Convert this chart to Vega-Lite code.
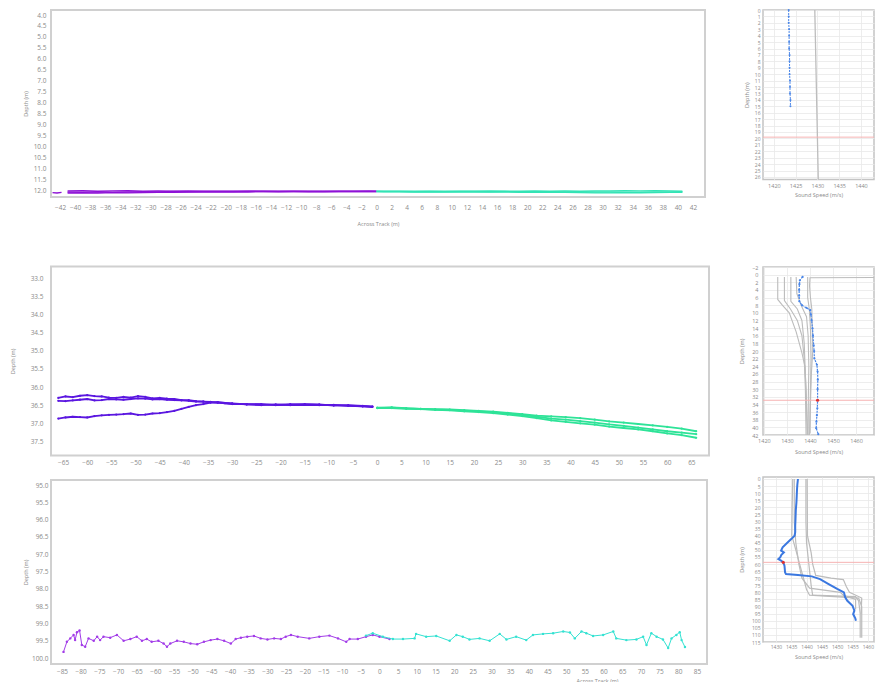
{
"$schema":"https://vega.github.io/schema/vega-lite/v6.json",
"background":"white",
"padding":{"left":9,"top":3,"right":0,"bottom":0},
"spacing":28,
"datasets":{
"l1p":[
{"ping":4,"x":-43,"d":12.12},{"ping":4,"x":-42.4,"d":12.14},{"ping":4,"x":-41.8,"d":12.11},
{"ping":1,"x":-41,"d":12.04},{"ping":1,"x":-39,"d":12.03},{"ping":1,"x":-37,"d":12.05},{"ping":1,"x":-35,"d":12.04},{"ping":1,"x":-33,"d":12.03},{"ping":1,"x":-31,"d":12.05},{"ping":1,"x":-29,"d":12.04},{"ping":1,"x":-27,"d":12.05},{"ping":1,"x":-25,"d":12.04},{"ping":1,"x":-23,"d":12.05},{"ping":1,"x":-21,"d":12.05},{"ping":1,"x":-19,"d":12.06},{"ping":1,"x":-17,"d":12.04},{"ping":1,"x":-15,"d":12.05},{"ping":1,"x":-13,"d":12.06},{"ping":1,"x":-11,"d":12.05},{"ping":1,"x":-9,"d":12.05},{"ping":1,"x":-7,"d":12.06},{"ping":1,"x":-5,"d":12.05},{"ping":1,"x":-3,"d":12.06},{"ping":1,"x":-1,"d":12.06},{"ping":1,"x":0,"d":12.06},
{"ping":2,"x":-41,"d":12.09},{"ping":2,"x":-39,"d":12.10},{"ping":2,"x":-37,"d":12.08},{"ping":2,"x":-35,"d":12.10},{"ping":2,"x":-33,"d":12.09},{"ping":2,"x":-31,"d":12.08},{"ping":2,"x":-29,"d":12.09},{"ping":2,"x":-27,"d":12.07},{"ping":2,"x":-25,"d":12.08},{"ping":2,"x":-23,"d":12.07},{"ping":2,"x":-21,"d":12.07},{"ping":2,"x":-19,"d":12.07},{"ping":2,"x":-17,"d":12.08},{"ping":2,"x":-15,"d":12.07},{"ping":2,"x":-13,"d":12.07},{"ping":2,"x":-11,"d":12.07},{"ping":2,"x":-9,"d":12.08},{"ping":2,"x":-7,"d":12.07},{"ping":2,"x":-5,"d":12.07},{"ping":2,"x":-3,"d":12.07},{"ping":2,"x":-1,"d":12.06},{"ping":2,"x":0,"d":12.07},
{"ping":3,"x":-41,"d":12.14},{"ping":3,"x":-39,"d":12.13},{"ping":3,"x":-37,"d":12.14},{"ping":3,"x":-35,"d":12.12},{"ping":3,"x":-33,"d":12.13},{"ping":3,"x":-31,"d":12.12},{"ping":3,"x":-29,"d":12.11},{"ping":3,"x":-27,"d":12.10},{"ping":3,"x":-25,"d":12.09},{"ping":3,"x":-23,"d":12.09},{"ping":3,"x":-21,"d":12.08},{"ping":3,"x":-19,"d":12.09},{"ping":3,"x":-17,"d":12.08},{"ping":3,"x":-15,"d":12.07},{"ping":3,"x":-13,"d":12.08},{"ping":3,"x":-11,"d":12.07},{"ping":3,"x":-9,"d":12.07},{"ping":3,"x":-7,"d":12.08},{"ping":3,"x":-5,"d":12.07},{"ping":3,"x":-3,"d":12.07},{"ping":3,"x":-1,"d":12.07},{"ping":3,"x":0,"d":12.07}
],
"l1s":[
{"ping":1,"x":0,"d":12.06},{"ping":1,"x":1,"d":12.06},{"ping":1,"x":3,"d":12.05},{"ping":1,"x":5,"d":12.06},{"ping":1,"x":7,"d":12.05},{"ping":1,"x":9,"d":12.06},{"ping":1,"x":11,"d":12.05},{"ping":1,"x":13,"d":12.05},{"ping":1,"x":15,"d":12.04},{"ping":1,"x":17,"d":12.05},{"ping":1,"x":19,"d":12.05},{"ping":1,"x":21,"d":12.04},{"ping":1,"x":23,"d":12.05},{"ping":1,"x":25,"d":12.04},{"ping":1,"x":27,"d":12.05},{"ping":1,"x":29,"d":12.04},{"ping":1,"x":31,"d":12.04},{"ping":1,"x":33,"d":12.03},{"ping":1,"x":35,"d":12.04},{"ping":1,"x":37,"d":12.03},{"ping":1,"x":39,"d":12.04},{"ping":1,"x":40.6,"d":12.05},
{"ping":2,"x":0,"d":12.07},{"ping":2,"x":1,"d":12.07},{"ping":2,"x":3,"d":12.07},{"ping":2,"x":5,"d":12.08},{"ping":2,"x":7,"d":12.07},{"ping":2,"x":9,"d":12.08},{"ping":2,"x":11,"d":12.07},{"ping":2,"x":13,"d":12.07},{"ping":2,"x":15,"d":12.08},{"ping":2,"x":17,"d":12.07},{"ping":2,"x":19,"d":12.08},{"ping":2,"x":21,"d":12.08},{"ping":2,"x":23,"d":12.08},{"ping":2,"x":25,"d":12.09},{"ping":2,"x":27,"d":12.08},{"ping":2,"x":29,"d":12.09},{"ping":2,"x":31,"d":12.09},{"ping":2,"x":33,"d":12.10},{"ping":2,"x":35,"d":12.10},{"ping":2,"x":37,"d":12.09},{"ping":2,"x":39,"d":12.09},{"ping":2,"x":40.6,"d":12.08},
{"ping":3,"x":0,"d":12.07},{"ping":3,"x":1,"d":12.08},{"ping":3,"x":3,"d":12.08},{"ping":3,"x":5,"d":12.09},{"ping":3,"x":7,"d":12.08},{"ping":3,"x":9,"d":12.09},{"ping":3,"x":11,"d":12.09},{"ping":3,"x":13,"d":12.08},{"ping":3,"x":15,"d":12.09},{"ping":3,"x":17,"d":12.09},{"ping":3,"x":19,"d":12.10},{"ping":3,"x":21,"d":12.10},{"ping":3,"x":23,"d":12.11},{"ping":3,"x":25,"d":12.11},{"ping":3,"x":27,"d":12.12},{"ping":3,"x":29,"d":12.13},{"ping":3,"x":31,"d":12.13},{"ping":3,"x":33,"d":12.12},{"ping":3,"x":35,"d":12.13},{"ping":3,"x":37,"d":12.12},{"ping":3,"x":39,"d":12.11},{"ping":3,"x":40.6,"d":12.10}
],
"l2p":[
{"ping":"A","x":-66,"d":36.30},{"ping":"A","x":-64.5,"d":36.26},{"ping":"A","x":-63,"d":36.28},{"ping":"A","x":-61.5,"d":36.24},{"ping":"A","x":-60,"d":36.22},{"ping":"A","x":-58.5,"d":36.25},{"ping":"A","x":-57,"d":36.26},{"ping":"A","x":-55.5,"d":36.29},{"ping":"A","x":-54,"d":36.30},{"ping":"A","x":-52.5,"d":36.27},{"ping":"A","x":-51,"d":36.29},{"ping":"A","x":-49.5,"d":36.25},{"ping":"A","x":-48,"d":36.27},{"ping":"A","x":-46.5,"d":36.31},{"ping":"A","x":-45,"d":36.30},{"ping":"A","x":-43.5,"d":36.32},{"ping":"A","x":-42,"d":36.33},{"ping":"A","x":-40.5,"d":36.36},{"ping":"A","x":-39,"d":36.36},{"ping":"A","x":-37.5,"d":36.39},{"ping":"A","x":-36,"d":36.40},{"ping":"A","x":-34.5,"d":36.41},{"ping":"A","x":-33,"d":36.43},{"ping":"A","x":-31.5,"d":36.45},{"ping":"A","x":-30,"d":36.47},{"ping":"A","x":-27,"d":36.47},{"ping":"A","x":-24,"d":36.48},{"ping":"A","x":-21,"d":36.49},{"ping":"A","x":-18,"d":36.47},{"ping":"A","x":-15,"d":36.48},{"ping":"A","x":-12,"d":36.49},{"ping":"A","x":-9,"d":36.50},{"ping":"A","x":-6,"d":36.51},{"ping":"A","x":-3,"d":36.53},{"ping":"A","x":-1,"d":36.54},
{"ping":"B","x":-66,"d":36.38},{"ping":"B","x":-64.5,"d":36.39},{"ping":"B","x":-63,"d":36.37},{"ping":"B","x":-61.5,"d":36.35},{"ping":"B","x":-60,"d":36.33},{"ping":"B","x":-58.5,"d":36.37},{"ping":"B","x":-57,"d":36.36},{"ping":"B","x":-55.5,"d":36.33},{"ping":"B","x":-54,"d":36.34},{"ping":"B","x":-52.5,"d":36.35},{"ping":"B","x":-51,"d":36.33},{"ping":"B","x":-49.5,"d":36.31},{"ping":"B","x":-48,"d":36.32},{"ping":"B","x":-46.5,"d":36.34},{"ping":"B","x":-45,"d":36.33},{"ping":"B","x":-43.5,"d":36.35},{"ping":"B","x":-42,"d":36.36},{"ping":"B","x":-40.5,"d":36.37},{"ping":"B","x":-39,"d":36.38},{"ping":"B","x":-37.5,"d":36.40},{"ping":"B","x":-36,"d":36.40},{"ping":"B","x":-34.5,"d":36.42},{"ping":"B","x":-33,"d":36.42},{"ping":"B","x":-31.5,"d":36.44},{"ping":"B","x":-30,"d":36.46},{"ping":"B","x":-27,"d":36.48},{"ping":"B","x":-24,"d":36.47},{"ping":"B","x":-21,"d":36.50},{"ping":"B","x":-18,"d":36.49},{"ping":"B","x":-15,"d":36.47},{"ping":"B","x":-12,"d":36.48},{"ping":"B","x":-9,"d":36.51},{"ping":"B","x":-6,"d":36.50},{"ping":"B","x":-3,"d":36.52},{"ping":"B","x":-1,"d":36.55},
{"ping":"C","x":-66,"d":36.87},{"ping":"C","x":-64.5,"d":36.84},{"ping":"C","x":-63,"d":36.82},{"ping":"C","x":-61.5,"d":36.83},{"ping":"C","x":-60,"d":36.84},{"ping":"C","x":-58.5,"d":36.80},{"ping":"C","x":-57,"d":36.78},{"ping":"C","x":-55.5,"d":36.77},{"ping":"C","x":-54,"d":36.76},{"ping":"C","x":-52.5,"d":36.75},{"ping":"C","x":-51,"d":36.73},{"ping":"C","x":-49.5,"d":36.77},{"ping":"C","x":-48,"d":36.76},{"ping":"C","x":-46.5,"d":36.73},{"ping":"C","x":-45,"d":36.72},{"ping":"C","x":-43.5,"d":36.69},{"ping":"C","x":-42,"d":36.66},{"ping":"C","x":-40.5,"d":36.60},{"ping":"C","x":-39,"d":36.55},{"ping":"C","x":-37.5,"d":36.50},{"ping":"C","x":-36,"d":36.47},{"ping":"C","x":-34.5,"d":36.43},{"ping":"C","x":-33,"d":36.42},{"ping":"C","x":-31.5,"d":36.44},{"ping":"C","x":-30,"d":36.45},{"ping":"C","x":-27,"d":36.48},{"ping":"C","x":-24,"d":36.50},{"ping":"C","x":-21,"d":36.48},{"ping":"C","x":-18,"d":36.50},{"ping":"C","x":-15,"d":36.49},{"ping":"C","x":-12,"d":36.50},{"ping":"C","x":-9,"d":36.49},{"ping":"C","x":-6,"d":36.52},{"ping":"C","x":-3,"d":36.53},{"ping":"C","x":-1,"d":36.54}
],
"l2s":[
{"ping":"A","x":0,"d":36.57},{"ping":"A","x":3,"d":36.56},{"ping":"A","x":6,"d":36.58},{"ping":"A","x":9,"d":36.60},{"ping":"A","x":12,"d":36.61},{"ping":"A","x":15,"d":36.62},{"ping":"A","x":18,"d":36.64},{"ping":"A","x":21,"d":36.66},{"ping":"A","x":24,"d":36.68},{"ping":"A","x":27,"d":36.71},{"ping":"A","x":30,"d":36.75},{"ping":"A","x":33,"d":36.79},{"ping":"A","x":36,"d":36.81},{"ping":"A","x":39,"d":36.83},{"ping":"A","x":42,"d":36.86},{"ping":"A","x":45,"d":36.90},{"ping":"A","x":48,"d":36.95},{"ping":"A","x":51,"d":36.98},{"ping":"A","x":54,"d":37.02},{"ping":"A","x":57,"d":37.06},{"ping":"A","x":60,"d":37.10},{"ping":"A","x":63,"d":37.15},{"ping":"A","x":66,"d":37.22},
{"ping":"B","x":0,"d":36.58},{"ping":"B","x":3,"d":36.57},{"ping":"B","x":6,"d":36.59},{"ping":"B","x":9,"d":36.60},{"ping":"B","x":12,"d":36.62},{"ping":"B","x":15,"d":36.63},{"ping":"B","x":18,"d":36.65},{"ping":"B","x":21,"d":36.67},{"ping":"B","x":24,"d":36.70},{"ping":"B","x":27,"d":36.73},{"ping":"B","x":30,"d":36.77},{"ping":"B","x":33,"d":36.82},{"ping":"B","x":36,"d":36.87},{"ping":"B","x":39,"d":36.90},{"ping":"B","x":42,"d":36.94},{"ping":"B","x":45,"d":36.98},{"ping":"B","x":48,"d":37.03},{"ping":"B","x":51,"d":37.07},{"ping":"B","x":54,"d":37.12},{"ping":"B","x":57,"d":37.17},{"ping":"B","x":60,"d":37.22},{"ping":"B","x":63,"d":37.26},{"ping":"B","x":66,"d":37.30},
{"ping":"C","x":0,"d":36.58},{"ping":"C","x":3,"d":36.58},{"ping":"C","x":6,"d":36.60},{"ping":"C","x":9,"d":36.61},{"ping":"C","x":12,"d":36.63},{"ping":"C","x":15,"d":36.64},{"ping":"C","x":18,"d":36.67},{"ping":"C","x":21,"d":36.69},{"ping":"C","x":24,"d":36.72},{"ping":"C","x":27,"d":36.76},{"ping":"C","x":30,"d":36.80},{"ping":"C","x":33,"d":36.86},{"ping":"C","x":36,"d":36.92},{"ping":"C","x":39,"d":36.96},{"ping":"C","x":42,"d":37.00},{"ping":"C","x":45,"d":37.04},{"ping":"C","x":48,"d":37.09},{"ping":"C","x":51,"d":37.13},{"ping":"C","x":54,"d":37.17},{"ping":"C","x":57,"d":37.22},{"ping":"C","x":60,"d":37.28},{"ping":"C","x":63,"d":37.33},{"ping":"C","x":66,"d":37.40}
],
"l3p":[
{"x":-84.6,"d":99.82},{"x":-83.7,"d":99.53},{"x":-82.8,"d":99.43},{"x":-81.9,"d":99.33},{"x":-81.5,"d":99.48},{"x":-81.0,"d":99.25},{"x":-80.3,"d":99.2},{"x":-79.7,"d":99.62},{"x":-78.8,"d":99.67},{"x":-77.9,"d":99.43},{"x":-76.5,"d":99.5},{"x":-75.6,"d":99.38},{"x":-74.8,"d":99.48},{"x":-73.9,"d":99.38},{"x":-72.1,"d":99.41},{"x":-70.3,"d":99.33},{"x":-68.5,"d":99.5},{"x":-66.7,"d":99.45},{"x":-65,"d":99.38},{"x":-63.6,"d":99.5},{"x":-62.3,"d":99.45},{"x":-61,"d":99.53},{"x":-59.2,"d":99.5},{"x":-57.8,"d":99.58},{"x":-56.9,"d":99.67},{"x":-56,"d":99.58},{"x":-54.2,"d":99.5},{"x":-52.4,"d":99.53},{"x":-50.6,"d":99.58},{"x":-48.8,"d":99.6},{"x":-47,"d":99.53},{"x":-45.2,"d":99.48},{"x":-43.4,"d":99.45},{"x":-41.6,"d":99.5},{"x":-39.8,"d":99.58},{"x":-38.5,"d":99.45},{"x":-37.1,"d":99.41},{"x":-35.4,"d":99.38},{"x":-33.6,"d":99.36},{"x":-31.8,"d":99.43},{"x":-30,"d":99.46},{"x":-28.2,"d":99.43},{"x":-26.4,"d":99.45},{"x":-25.1,"d":99.38},{"x":-23.7,"d":99.33},{"x":-21.9,"d":99.38},{"x":-18.8,"d":99.43},{"x":-16.1,"d":99.38},{"x":-13.4,"d":99.35},{"x":-11.1,"d":99.43},{"x":-8.9,"d":99.53},{"x":-8.0,"d":99.45},{"x":-5.8,"d":99.45},{"x":-3.6,"d":99.38},{"x":-1.8,"d":99.33},{"x":0,"d":99.38},{"x":2.7,"d":99.45}
],
"l3s":[
{"x":-3.6,"d":99.35},{"x":-1.8,"d":99.28},{"x":0.9,"d":99.38},{"x":3.6,"d":99.45},{"x":6.3,"d":99.45},{"x":9.4,"d":99.43},{"x":9.8,"d":99.3},{"x":12.5,"d":99.38},{"x":15.2,"d":99.36},{"x":18.8,"d":99.5},{"x":20.6,"d":99.33},{"x":22.3,"d":99.38},{"x":24.1,"d":99.46},{"x":26.8,"d":99.43},{"x":29.5,"d":99.5},{"x":32.2,"d":99.3},{"x":34,"d":99.46},{"x":36.6,"d":99.38},{"x":39.3,"d":99.48},{"x":41.1,"d":99.33},{"x":43.8,"d":99.3},{"x":46.5,"d":99.28},{"x":49.2,"d":99.23},{"x":51,"d":99.26},{"x":52.3,"d":99.43},{"x":54.1,"d":99.23},{"x":55.4,"d":99.28},{"x":57.2,"d":99.36},{"x":59.9,"d":99.33},{"x":62.6,"d":99.23},{"x":63.4,"d":99.43},{"x":66.1,"d":99.48},{"x":68.8,"d":99.46},{"x":70.6,"d":99.38},{"x":71.5,"d":99.62},{"x":72.8,"d":99.28},{"x":74.2,"d":99.38},{"x":75.9,"d":99.46},{"x":77.3,"d":99.71},{"x":78.2,"d":99.43},{"x":79.5,"d":99.33},{"x":80.4,"d":99.25},{"x":80.9,"d":99.48},{"x":81.8,"d":99.68}
],
"r1g":[{"cast":1,"c":1429.4,"z":0},{"cast":1,"c":1430.2,"z":26.4}],
"r1b":[{"c":1423.4,"z":0},{"c":1423.4,"z":1},{"c":1423.4,"z":2},{"c":1423.5,"z":3},{"c":1423.5,"z":4},{"c":1423.5,"z":5},{"c":1423.5,"z":6},{"c":1423.6,"z":7},{"c":1423.6,"z":8},{"c":1423.6,"z":9},{"c":1423.6,"z":10},{"c":1423.7,"z":11},{"c":1423.7,"z":12},{"c":1423.7,"z":13},{"c":1423.8,"z":14},{"c":1423.8,"z":15}],
"r1n":[{"z":19.8}],
"r2g":[
{"cast":1,"c":1480,"z":0.7},{"cast":1,"c":1440,"z":0.8},{"cast":1,"c":1439.8,"z":3},{"cast":1,"c":1440.2,"z":6},{"cast":1,"c":1440.8,"z":9},{"cast":1,"c":1441,"z":14},{"cast":1,"c":1441.2,"z":20},{"cast":1,"c":1440.6,"z":26},{"cast":1,"c":1440.2,"z":34},{"cast":1,"c":1440,"z":41.5},
{"cast":2,"c":1426,"z":0.6},{"cast":2,"c":1426,"z":6.5},{"cast":2,"c":1428,"z":8},{"cast":2,"c":1431,"z":10},{"cast":2,"c":1434,"z":15},{"cast":2,"c":1436.5,"z":20.5},{"cast":2,"c":1437.8,"z":24},{"cast":2,"c":1438.3,"z":30},{"cast":2,"c":1438.6,"z":36},{"cast":2,"c":1439,"z":42},
{"cast":3,"c":1428.9,"z":0.6},{"cast":3,"c":1428.9,"z":6.8},{"cast":3,"c":1431.5,"z":9},{"cast":3,"c":1434.5,"z":12},{"cast":3,"c":1436.5,"z":16},{"cast":3,"c":1437.5,"z":22},{"cast":3,"c":1438,"z":30},{"cast":3,"c":1438.3,"z":42},
{"cast":4,"c":1431.7,"z":0.6},{"cast":4,"c":1431.7,"z":7},{"cast":4,"c":1434.5,"z":9},{"cast":4,"c":1436.5,"z":12},{"cast":4,"c":1437.5,"z":18},{"cast":4,"c":1438,"z":26},{"cast":4,"c":1438.5,"z":34},{"cast":4,"c":1438.8,"z":42},
{"cast":5,"c":1434,"z":0.6},{"cast":5,"c":1434.3,"z":5},{"cast":5,"c":1436.5,"z":8.5},{"cast":5,"c":1438.5,"z":11},{"cast":5,"c":1439.2,"z":16},{"cast":5,"c":1439.5,"z":24},{"cast":5,"c":1439.3,"z":32},{"cast":5,"c":1439.2,"z":42},
{"cast":6,"c":1439,"z":0.6},{"cast":6,"c":1439,"z":6},{"cast":6,"c":1439.7,"z":9},{"cast":6,"c":1440.2,"z":14},{"cast":6,"c":1440.5,"z":22},{"cast":6,"c":1440.2,"z":30},{"cast":6,"c":1439.8,"z":42}
],
"r2b":[{"c":1436.8,"z":0.6},{"c":1435.6,"z":1.5},{"c":1435.4,"z":2.5},{"c":1435.3,"z":4},{"c":1435.3,"z":5.5},{"c":1435.4,"z":7},{"c":1436.5,"z":8},{"c":1438.5,"z":8.7},{"c":1440.1,"z":9.3},{"c":1440.4,"z":10.5},{"c":1440.7,"z":12},{"c":1441.1,"z":14.1},{"c":1441.3,"z":16},{"c":1441.6,"z":18.5},{"c":1441.8,"z":20},{"c":1441.9,"z":21.9},{"c":1443.0,"z":23.6},{"c":1443.3,"z":25.4},{"c":1443.4,"z":27.5},{"c":1443.3,"z":30},{"c":1443.3,"z":32.9},{"c":1443.2,"z":35},{"c":1443.0,"z":36.8},{"c":1442.8,"z":38.5},{"c":1442.7,"z":40.2},{"c":1443.6,"z":41.8}],
"r2n":[{"c":1443.3,"z":32.9}],
"r3g":[
{"cast":1,"c":1435.5,"z":0},{"cast":1,"c":1435.3,"z":20},{"cast":1,"c":1435.2,"z":40},{"cast":1,"c":1436.5,"z":50},{"cast":1,"c":1438,"z":62},{"cast":1,"c":1439,"z":70},{"cast":1,"c":1440,"z":78},{"cast":1,"c":1441,"z":82},{"cast":1,"c":1457,"z":84},{"cast":1,"c":1458,"z":90},{"cast":1,"c":1458,"z":100},{"cast":1,"c":1458,"z":112},
{"cast":2,"c":1439.8,"z":0},{"cast":2,"c":1439.8,"z":30},{"cast":2,"c":1440,"z":45},{"cast":2,"c":1440.5,"z":55},{"cast":2,"c":1441,"z":65},{"cast":2,"c":1441.5,"z":75},{"cast":2,"c":1442,"z":82},{"cast":2,"c":1456,"z":83},{"cast":2,"c":1457,"z":86},{"cast":2,"c":1457.5,"z":95},{"cast":2,"c":1457.5,"z":112},
{"cast":3,"c":1440.2,"z":0},{"cast":3,"c":1440.3,"z":40},{"cast":3,"c":1441.5,"z":52},{"cast":3,"c":1442,"z":60},{"cast":3,"c":1443,"z":68},{"cast":3,"c":1448,"z":70},{"cast":3,"c":1452,"z":71},{"cast":3,"c":1453,"z":76},{"cast":3,"c":1454,"z":80},{"cast":3,"c":1458,"z":84},{"cast":3,"c":1457.8,"z":95},
{"cast":4,"c":1436,"z":0},{"cast":4,"c":1436,"z":30},{"cast":4,"c":1436.5,"z":45},{"cast":4,"c":1437.5,"z":60},{"cast":4,"c":1438.5,"z":70},{"cast":4,"c":1441,"z":77},{"cast":4,"c":1451,"z":80},{"cast":4,"c":1452,"z":82},{"cast":4,"c":1456,"z":85},{"cast":4,"c":1456,"z":92}
],
"r3b":[{"c":1437.2,"z":0},{"c":1437.0,"z":4},{"c":1436.9,"z":7.1},{"c":1436.8,"z":12},{"c":1436.7,"z":16.5},{"c":1436.5,"z":22},{"c":1436.4,"z":28.2},{"c":1436.3,"z":33},{"c":1436.3,"z":37.6},{"c":1436.1,"z":40},{"c":1435.0,"z":42.4},{"c":1433.3,"z":45.9},{"c":1432.2,"z":48.2},{"c":1431.7,"z":50.6},{"c":1432.6,"z":51.8},{"c":1431.8,"z":53.5},{"c":1431.4,"z":55.3},{"c":1430.8,"z":56.5},{"c":1431.7,"z":57.6},{"c":1432.4,"z":58.8},{"c":1432.8,"z":61.2},{"c":1433.0,"z":65.9},{"c":1433.3,"z":67.0},{"c":1437.2,"z":67.8},{"c":1441.7,"z":68.7},{"c":1444.4,"z":70.6},{"c":1447.2,"z":74.1},{"c":1450.0,"z":77.6},{"c":1452.2,"z":80.0},{"c":1452.6,"z":83.5},{"c":1453.3,"z":85.9},{"c":1455.0,"z":89.4},{"c":1455.6,"z":92.9},{"c":1455.2,"z":95.3},{"c":1455.9,"z":98.3},{"c":1456.1,"z":100.0}],
"r3n":[{"c":1432.4,"z":58.8}]
},
"hconcat":[
{"spacing":12.5,"vconcat":[
{"width":654,"height":187,
 "title":{"text":" ","fontSize":1,"offset":5},
 "encoding":{
  "x":{"field":"x","type":"quantitative","scale":{"domain":[-43.2,43.6],"nice":false,"zero":false},
   "axis":{"values":[-42,-40,-38,-36,-34,-32,-30,-28,-26,-24,-22,-20,-18,-16,-14,-12,-10,-8,-6,-4,-2,0,2,4,6,8,10,12,14,16,18,20,22,24,26,28,30,32,34,36,38,40,42],"labelOverlap":false,"labelPadding":7.5,"title":"Across Track (m)","titleY":26,"titleBaseline":"middle"}},
  "y":{"field":"d","type":"quantitative","scale":{"domain":[3.77,12.32],"nice":false,"zero":false,"reverse":true},
   "axis":{"values":[4,4.5,5,5.5,6,6.5,7,7.5,8,8.5,9,9.5,10,10.5,11,11.5,12],"format":".1f","labelOverlap":false,"labelPadding":5,"title":"Depth (m)","titleX":-26,"titleBaseline":"middle"}}
 },
 "layer":[
  {"data":{"name":"l1p"},"mark":{"type":"line","color":"#8e12d6","strokeWidth":1.4,"clip":true},"encoding":{"detail":{"field":"ping"}}},
  {"data":{"name":"l1s"},"mark":{"type":"line","color":"#33e3b5","strokeWidth":1.4,"clip":true},"encoding":{"detail":{"field":"ping"}}}
 ]},
{"width":658,"height":189,
 "title":{"text":" ","fontSize":1,"offset":23.75},
 "encoding":{
  "x":{"field":"x","type":"quantitative","scale":{"domain":[-67.5,68.65],"nice":false,"zero":false},
   "axis":{"values":[-65,-60,-55,-50,-45,-40,-35,-30,-25,-20,-15,-10,-5,0,5,10,15,20,25,30,35,40,45,50,55,60,65],"labelOverlap":false,"labelPadding":3.5,"title":null}},
  "y":{"field":"d","type":"quantitative","scale":{"domain":[32.67,37.89],"nice":false,"zero":false,"reverse":true},
   "axis":{"values":[33,33.5,34,34.5,35,35.5,36,36.5,37,37.5],"format":".1f","labelOverlap":false,"labelPadding":8,"title":"Depth (m)","titleX":-39,"titleBaseline":"middle"}}
 },
 "layer":[
  {"data":{"name":"l2p"},"mark":{"type":"line","color":"#5a16e0","strokeWidth":1.8,"clip":true,"point":{"filled":true,"size":5,"color":"#5a16e0"}},"encoding":{"detail":{"field":"ping"}}},
  {"data":{"name":"l2s"},"mark":{"type":"line","color":"#2ee398","strokeWidth":1.8,"clip":true,"point":{"filled":true,"size":5,"color":"#2ee398"}},"encoding":{"detail":{"field":"ping"}}}
 ]},
{"width":656,"height":184,
 "encoding":{
  "x":{"field":"x","type":"quantitative","scale":{"domain":[-87.95,87.7],"nice":false,"zero":false},
   "axis":{"values":[-85,-80,-75,-70,-65,-60,-55,-50,-45,-40,-35,-30,-25,-20,-15,-10,-5,0,5,10,15,20,25,30,35,40,45,50,55,60,65,70,75,80,85],"labelOverlap":false,"labelPadding":4.5,"title":"Across Track (m)","titleY":16,"titleX":546,"titleBaseline":"middle"}},
  "y":{"field":"d","type":"quantitative","scale":{"domain":[94.855,100.17],"nice":false,"zero":false,"reverse":true},
   "axis":{"values":[95,95.5,96,96.5,97,97.5,98,98.5,99,99.5,100],"format":".1f","labelOverlap":false,"labelPadding":3,"title":"Depth (m)","titleX":-26,"titleBaseline":"middle"}}
 },
 "layer":[
  {"data":{"name":"l3p"},"mark":{"type":"line","color":"#a23ce8","strokeWidth":1,"clip":true,"point":{"filled":true,"size":6,"color":"#a23ce8"}}},
  {"data":{"name":"l3s"},"mark":{"type":"line","color":"#34e2d2","strokeWidth":1,"clip":true,"point":{"filled":true,"size":6,"color":"#34e2d2"}}}
 ]}
]},
{"spacing":20,"vconcat":[
{"width":111,"height":169.5,
 "view":{"stroke":"#c4c4c4","strokeWidth":1.5},
 "encoding":{"y":{"field":"z","type":"quantitative","scale":{"domain":[0,26.4],"nice":false,"zero":false,"reverse":true},
   "axis":{"values":[0,1,2,3,4,5,6,7,8,9,10,11,12,13,14,15,16,17,18,19,20,21,22,23,24,25,26],"labelOverlap":false,"labelPadding":3,"labelFontSize":5,"grid":true,"title":"Depth (m)","titleX":-17,"titleBaseline":"middle"}}},
 "layer":[
  {"data":{"name":"r1g"},"mark":{"type":"line","color":"#bdbdbd","strokeWidth":1.3,"clip":true},
   "encoding":{"x":{"field":"c","type":"quantitative","scale":{"domain":[1417.5,1443],"nice":false,"zero":false},
     "axis":{"values":[1420,1425,1430,1435,1440],"format":"d","labelOverlap":false,"labelFontSize":5.5,"labelPadding":4,"grid":true,"title":"Sound Speed (m/s)","titleY":15,"titleBaseline":"middle"}},
    "detail":{"field":"cast"},"order":{"field":"z"}}},
  {"data":{"name":"r1n"},"mark":{"type":"rule","color":"#f6b3b3","strokeWidth":1},"encoding":{}},
  {"data":{"name":"r1b"},"mark":{"type":"line","color":"#4a86e8","strokeWidth":1,"strokeDash":[2,1],"point":{"filled":true,"size":4,"color":"#4a86e8"}},
   "encoding":{"x":{"field":"c","type":"quantitative","axis":{"values":[1420,1425,1430,1435,1440],"format":"d","labelOverlap":false}},"order":{"field":"z"}}}
 ]},
{"width":111,"height":168,
 "title":{"text":" ","fontSize":1,"offset":44},
 "view":{"stroke":"#c4c4c4","strokeWidth":1.5},
 "encoding":{"y":{"field":"z","type":"quantitative","scale":{"domain":[-2,42],"nice":false,"zero":false,"reverse":true},
   "axis":{"values":[-2,0,2,4,6,8,10,12,14,16,18,20,22,24,26,28,30,32,34,36,38,40,42],"labelOverlap":false,"labelPadding":5,"labelFontSize":5.5,"grid":true,"title":"Depth (m)","titleX":-22,"titleBaseline":"middle"}}},
 "layer":[
  {"data":{"name":"r2g"},"mark":{"type":"line","color":"#bcbcbc","strokeWidth":1.1,"clip":true},
   "encoding":{"x":{"field":"c","type":"quantitative","scale":{"domain":[1419.6,1467.8],"nice":false,"zero":false},
     "axis":{"values":[1420,1430,1440,1450,1460],"format":"d","labelOverlap":false,"labelFontSize":5.5,"labelPadding":3.3,"grid":true,"title":"Sound Speed (m/s)","titleY":16,"titleBaseline":"middle"}},
    "detail":{"field":"cast"},"order":{"field":"z"}}},
  {"data":{"name":"r2n"},"mark":{"type":"rule","color":"#f6b3b3","strokeWidth":1},"encoding":{}},
  {"data":{"name":"r2b"},"mark":{"type":"line","color":"#4a86e8","strokeWidth":1.2,"strokeDash":[2,1],"point":{"filled":true,"size":5,"color":"#4a86e8"}},
   "encoding":{"x":{"field":"c","type":"quantitative","axis":{"values":[1420,1430,1440,1450,1460],"format":"d","labelOverlap":false}},"order":{"field":"z"}}},
  {"data":{"name":"r2n"},"mark":{"type":"point","filled":true,"size":10,"color":"#e03030","opacity":1},
   "encoding":{"x":{"field":"c","type":"quantitative","axis":{"values":[1420,1430,1440,1450,1460],"format":"d","labelOverlap":false}}}}
 ]},
{"width":111,"height":165,
 "view":{"stroke":"#c4c4c4","strokeWidth":1.5},
 "encoding":{"y":{"field":"z","type":"quantitative","scale":{"domain":[-1.4,115],"nice":false,"zero":false,"reverse":true},
   "axis":{"values":[0,5,10,15,20,25,30,35,40,45,50,55,60,65,70,75,80,85,90,95,100,105,110,115],"labelOverlap":false,"labelPadding":3,"labelFontSize":5,"grid":true,"title":"Depth (m)","titleX":-22,"titleBaseline":"middle"}}},
 "layer":[
  {"data":{"name":"r3g"},"mark":{"type":"line","color":"#bcbcbc","strokeWidth":1.2,"clip":true},
   "encoding":{"x":{"field":"c","type":"quantitative","scale":{"domain":[1425.8,1462],"nice":false,"zero":false},
     "axis":{"values":[1430,1435,1440,1445,1450,1455,1460],"format":"d","labelOverlap":false,"labelFontSize":5,"labelPadding":2.3,"grid":true,"title":"Sound Speed (m/s)","titleY":14,"titleBaseline":"middle"}},
    "detail":{"field":"cast"},"order":{"field":"z"}}},
  {"data":{"name":"r3n"},"mark":{"type":"rule","color":"#f6b3b3","strokeWidth":1},"encoding":{}},
  {"data":{"name":"r3b"},"mark":{"type":"line","color":"#3b78e0","strokeWidth":2,"clip":true},
   "encoding":{"x":{"field":"c","type":"quantitative","axis":{"values":[1430,1435,1440,1445,1450,1455,1460],"format":"d","labelOverlap":false}},"order":{"field":"z"}}},
  {"data":{"name":"r3n"},"mark":{"type":"point","filled":true,"size":10,"color":"#e03030","opacity":1},
   "encoding":{"x":{"field":"c","type":"quantitative","axis":{"values":[1430,1435,1440,1445,1450,1455,1460],"format":"d","labelOverlap":false}}}}
 ]}
]}
],
"config":{
 "font":"Open Sans",
 "view":{"stroke":"#d0d0d0","strokeWidth":2},
 "axis":{"domain":false,"ticks":false,"grid":false,"gridColor":"#e8e8e8","gridWidth":0.8,"labelColor":"#8a8a8a","titleColor":"#8a8a8a","labelFontSize":6.5,"titleFontSize":5.5,"titleFontWeight":"normal","labelOverlap":false,"labelFlush":false},
 "title":{"color":"white"}
}
}
